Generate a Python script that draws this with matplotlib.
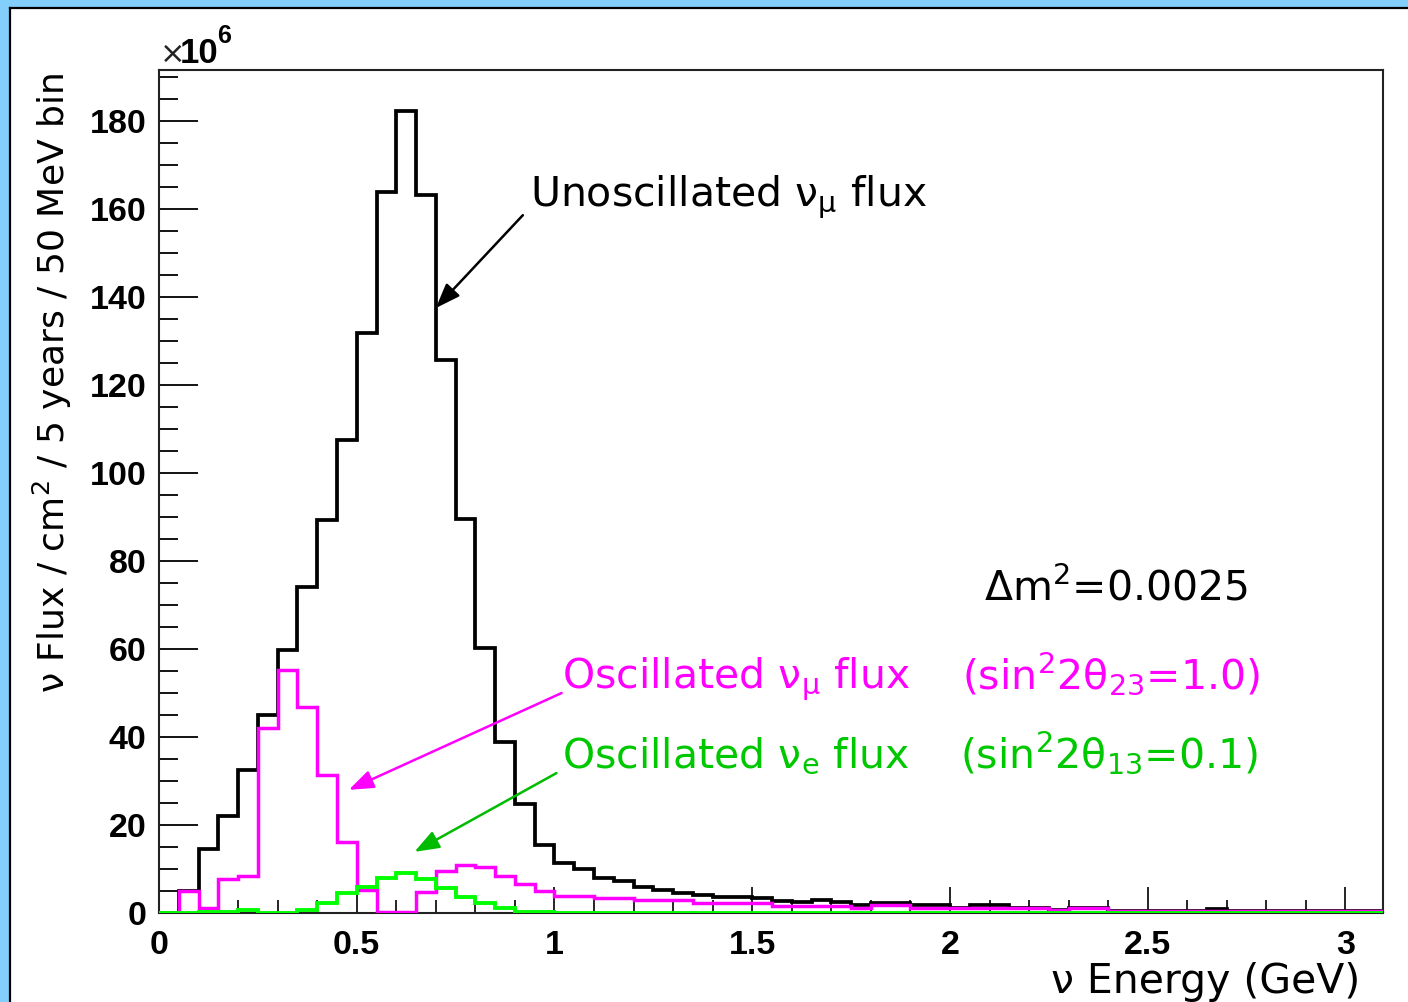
import numpy as np
import matplotlib
matplotlib.use("Agg")
import matplotlib.pyplot as plt
from matplotlib.patches import Rectangle
from matplotlib.lines import Line2D
from matplotlib.ticker import MultipleLocator

# flux per 50 MeV bin (units of 10^6), first bin starts at 0 GeV
bin_width = 0.05

unosc_numu = [0, 5.1, 14.6, 22.1, 32.6, 45.0, 59.8, 74.0, 89.3, 107.5,
              131.9, 163.8, 182.3, 163.2, 125.8, 89.5, 60.2, 38.9, 24.8, 15.5,
              11.4, 9.9, 7.9, 7.3, 5.8, 5.2, 4.6, 4.2, 3.7, 3.7,
              3.3, 2.8, 2.6, 2.9, 2.4, 1.8, 2.3, 2.3, 1.8, 1.8,
              1.1, 1.8, 1.8, 1.1, 1.1, 0.6, 1.1, 1.1, 0.5, 0.5,
              0.5, 0.5, 0.5, 0.8, 0.5, 0.5, 0.5, 0.5, 0.5, 0.5,
              0.5, 0.5]

osc_numu = [0, 5.1, 1.1, 7.7, 8.4, 42.0, 55.2, 46.9, 31.4, 16.1,
            5.2, 0.3, 0.3, 4.8, 9.6, 10.9, 10.4, 8.4, 6.6, 4.9,
            3.9, 3.9, 3.3, 3.3, 3.0, 3.0, 3.0, 2.2, 2.2, 2.2,
            2.2, 1.6, 1.6, 1.6, 1.6, 1.1, 1.8, 1.8, 1.2, 1.2,
            1.1, 1.1, 1.1, 1.1, 1.1, 0.6, 1.1, 1.1, 0.4, 0.4,
            0.4, 0.4, 0.4, 0.4, 0.4, 0.4, 0.4, 0.4, 0.4, 0.4,
            0.4, 0.4]

osc_nue = [0, 0, 0.3, 0.3, 0.6, 0, 0, 0.6, 2.2, 4.5,
           6.0, 7.9, 9.0, 7.7, 5.6, 3.6, 2.2, 1.1, 0.3, 0.3,
           0, 0, 0, 0, 0, 0, 0, 0, 0, 0,
           0, 0, 0, 0, 0, 0, 0, 0, 0, 0,
           0, 0, 0, 0, 0, 0, 0, 0, 0, 0,
           0, 0, 0, 0, 0, 0, 0, 0, 0, 0,
           0, 0]

x_ticks = [0, 0.5, 1, 1.5, 2, 2.5, 3]
x_tick_labels = ["0", "0.5", "1", "1.5", "2", "2.5", "3"]
y_ticks = [0, 20, 40, 60, 80, 100, 120, 140, 160, 180]

edges = np.arange(len(unosc_numu) + 1) * bin_width

W, H = 1408, 1002
fig = plt.figure(figsize=(W / 100, H / 100), dpi=100)
fig.patch.set_facecolor("white")

# slide frame: light blue band on top and left with a dark border line
blue = "#82CFFC"
fig.add_artist(Rectangle((0, 1 - 7 / H), 1, 7 / H, transform=fig.transFigure,
                         color=blue, lw=0, zorder=0))
fig.add_artist(Rectangle((0, 0), 9 / W, 1, transform=fig.transFigure,
                         color=blue, lw=0, zorder=0))
fig.add_artist(Line2D([9.5 / W, 1], [1 - 8 / H, 1 - 8 / H], transform=fig.transFigure,
                      color="black", lw=1.6))
fig.add_artist(Line2D([10 / W, 10 / W], [0, 1 - 8 / H], transform=fig.transFigure,
                      color="black", lw=1.6))

ax = fig.add_axes([159 / W, 1 - 913 / H, (1383 - 159) / W, (913 - 70) / H])

ax.stairs(unosc_numu, edges, color="black", lw=2.7, zorder=2)
ax.stairs(osc_numu, edges, color="#FF00FF", lw=2.5, zorder=3)
ax.stairs(osc_nue, edges, color="#00FF00", lw=2.8, zorder=4)

ax.set_xlim(0, 3.095)
ax.set_ylim(0, 191.6)

for s in ax.spines.values():
    s.set_linewidth(1.5)
    s.set_color("#222222")

ax.set_xticks(x_ticks, labels=x_tick_labels)
ax.set_yticks(y_ticks)
ax.xaxis.set_minor_locator(MultipleLocator(0.1))
ax.yaxis.set_minor_locator(MultipleLocator(5))
ax.tick_params(axis="x", which="major", direction="in", length=18.5, width=1.2,
               pad=12, top=False)
ax.tick_params(axis="x", which="minor", direction="in", length=9.5, width=1.2, top=False)
ax.tick_params(axis="y", which="major", direction="in", length=28, width=1.3,
               pad=9, right=False)
ax.tick_params(axis="y", which="minor", direction="in", length=14, width=1.3, right=False)
for lab in ax.get_xticklabels() + ax.get_yticklabels():
    lab.set_fontfamily("Liberation Sans")
    lab.set_fontweight("bold")
    lab.set_fontsize(24.5)

fig.text(159 / W, 1 - 63 / H, r"$\times$", fontsize=22, color="#222222",
         va="baseline", ha="left")
fig.text(180 / W, 1 - 63 / H, "10", fontsize=25, fontweight="bold",
         family="Liberation Sans", va="baseline", ha="left")
fig.text(217 / W, 1 - 43 / H, "6", fontsize=18, fontweight="bold",
         family="Liberation Sans", va="baseline", ha="left")

txt = dict(family="DejaVu Sans", fontsize=29.5, va="baseline", ha="left")
magenta = "#FF00FF"
green_txt = "#00C800"

ax.text(0.937, 160.5, r"Unoscillated ν$_{\mathrm{μ}}$ flux", color="black", **txt)
ax.text(1.018, 51.1, r"Oscillated ν$_{\mathrm{μ}}$ flux", color=magenta, **txt)
ax.text(2.03, 51.1, r"(sin$^{\mathrm{2}}$2θ$_{\mathrm{23}}$=1.0)", color=magenta, **txt)
ax.text(1.018, 33.0, r"Oscillated ν$_{\mathrm{e}}$ flux", color=green_txt, **txt)
ax.text(2.025, 33.0, r"(sin$^{\mathrm{2}}$2θ$_{\mathrm{13}}$=0.1)", color=green_txt, **txt)
ax.text(2.087, 71.1, r"Δm$^{\mathrm{2}}$=0.0025", color="black", **txt)

arrow = dict(arrowstyle="-|>,head_length=0.75,head_width=0.28",
             mutation_scale=20, lw=1.8, shrinkA=0, shrinkB=0)
ax.annotate("", xy=(0.70, 137.5), xytext=(0.92, 158.6),
            arrowprops=dict(color="black", **arrow))
ax.annotate("", xy=(0.48, 28.0), xytext=(1.018, 50.0),
            arrowprops=dict(color=magenta, **arrow))
ax.annotate("", xy=(0.646, 13.9), xytext=(1.005, 31.8),
            arrowprops=dict(color="#00BB00", **arrow))

fig.text(52 / W, 1 - 383 / H, r"ν Flux / cm$^{\mathrm{2}}$ / 5 years / 50 MeV bin",
         family="DejaVu Sans", fontsize=26, rotation=90, ha="center", va="center")
fig.text(1360 / W, 1 - 993 / H, "ν Energy (GeV)", family="DejaVu Sans",
         fontsize=29.5, ha="right", va="baseline")

fig.savefig("out.png", dpi=100)
